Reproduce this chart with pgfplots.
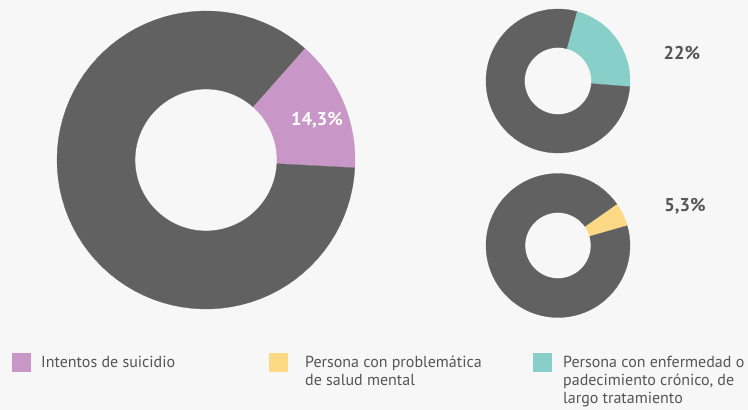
\documentclass[border=0pt]{standalone}
\usepackage{pgfplots}
\pgfplotsset{compat=1.18}
\usepackage{fontspec}
\setmainfont{PT Sans}
\definecolor{bgc}{HTML}{F7F7F7}
\definecolor{grayc}{HTML}{616161}
\definecolor{pinkc}{HTML}{C897C7}
\definecolor{tealc}{HTML}{88CFCA}
\definecolor{yellc}{HTML}{FED985}
\definecolor{textc}{HTML}{555555}
% cx, cy, R, r, start angle, percent, colour
\newcommand{\donutslice}[7]{%
  \addplot[fill=#7, draw=#7, line width=0.3pt, line join=round, domain=0:3, samples=241, variable=\t]
  ({#1 + (#3 - (#3-#4)*min(max(\t-1,0),1))*cos(#5 + 3.6*#6*(min(\t,1) - max(\t-2,0)))},
   {#2 + (#3 - (#3-#4)*min(max(\t-1,0),1))*sin(#5 + 3.6*#6*(min(\t,1) - max(\t-2,0)))});
}
\begin{document}
\begin{tikzpicture}[x=1pt,y=1pt]
\fill[bgc] (0,0) rectangle (748,410);
\begin{axis}[at={(0,0)}, anchor=south west, x=1pt, y=1pt,
  xmin=0, xmax=748, ymin=0, ymax=410, hide axis, clip=false]
% Big donut: Intentos de suicidio 14.3 %
\donutslice{206}{250}{149}{71}{-3}{14.3}{pinkc}
\donutslice{206}{250}{149}{71}{48.48}{85.7}{grayc}
% Top right: enfermedad cronica 22 %
\donutslice{558}{329}{72}{33.5}{-4.5}{22}{tealc}
\donutslice{558}{329}{72}{33.5}{74.7}{78}{grayc}
% Bottom right: salud mental 5.3 %
\donutslice{558}{164.5}{72}{33}{16}{5.3}{yellc}
\donutslice{558}{164.5}{72}{33}{35.08}{94.7}{grayc}
% value labels
\tikzset{val/.style={inner sep=0, font=\fontsize{18.5}{22}\selectfont\bfseries}}
\node[val, text=white] at (axis cs:317,290) {14,3\%};
\node[val, text=textc] at (axis cs:682,357) {22\%};
\node[val, text=textc] at (axis cs:685,203.5) {5,3\%};
% legend
\fill[pinkc] (axis cs:12,38) rectangle (axis cs:31,57);
\fill[yellc] (axis cs:269,38) rectangle (axis cs:288,57);
\fill[tealc] (axis cs:533,38) rectangle (axis cs:552,57);
\tikzset{leg/.style={anchor=base west, inner sep=0, text=textc, font=\fontsize{16}{19}\selectfont}}
\node[leg] at (axis cs:41,42) {Intentos de suicidio};
\node[leg] at (axis cs:305,42) {Persona con problemática};
\node[leg] at (axis cs:305,24) {de salud mental};
\node[leg] at (axis cs:563,42) {Persona con enfermedad o};
\node[leg] at (axis cs:563,24) {padecimiento crónico, de};
\node[leg] at (axis cs:563,6) {largo tratamiento};
\end{axis}
\end{tikzpicture}
\end{document}
